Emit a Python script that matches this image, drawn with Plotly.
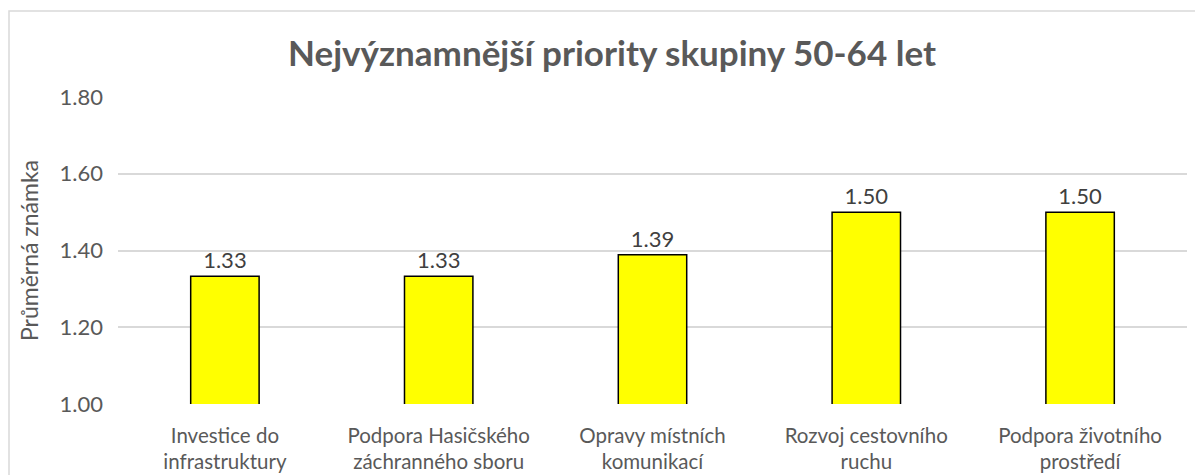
import plotly.graph_objects as go

categories = ["Investice do<br>infrastruktury", "Podpora Hasičského<br>záchranného sboru",
              "Opravy místních<br>komunikací", "Rozvoj cestovního<br>ruchu", "Podpora životního<br>prostředí"]
values = [1.333, 1.333, 1.389, 1.5, 1.5]
tick_vals = [1.0, 1.2, 1.4, 1.6, 1.8]
tick_text = ["1.00", "1.20", "1.40", "1.60", "1.80"]

FONT = "Lato"
GREY = "#595959"

fig = go.Figure()
fig.add_trace(go.Bar(
    x=categories, y=values,
    marker=dict(color="#FFFF00", line=dict(color="#000000", width=1.5)),
    text=[f"{v:.2f}" for v in values], textposition="outside",
    textfont=dict(family=FONT, size=22, color="#404040"),
    cliponaxis=False,
))

OFF = 8  # page body offset
W, H = 1203 - OFF, 475 - OFF
ml = 118 - OFF
mr = W - (1187 - OFF)
mt = 97 - OFF
mb = H - (404 - OFF)
pw, ph = W - ml - mr, H - mt - mb

def px_x(px):
    return (px - OFF - ml) / pw

def px_y(py):
    return (H - mb - (py - OFF)) / ph

fig.update_layout(
    width=W, height=H,
    margin=dict(l=ml, r=mr, t=mt, b=mb, autoexpand=False),
    paper_bgcolor="white", plot_bgcolor="white",
    bargap=0.68,
    showlegend=False,
    title=dict(text="<b>Nejvýznamnější priority skupiny 50-64 let</b>",
               x=(612 - OFF) / W, xref="container", xanchor="center",
               y=1 - (54 - OFF) / H, yref="container", yanchor="middle",
               font=dict(family=FONT, size=35, color=GREY)),
    xaxis=dict(showgrid=False, showline=False, ticks="",
               ticklabelstandoff=17,
               tickfont=dict(family=FONT, size=20.5, color=GREY)),
    yaxis=dict(range=[1.0, 1.8], tickvals=tick_vals, ticktext=tick_text,
               showgrid=True, gridcolor="#d9d9d9", gridwidth=1.5,
               zeroline=False, showline=False, ticks="",
               ticklabelstandoff=14,
               tickfont=dict(family=FONT, size=22, color=GREY),
               title=dict(text="Průměrná známka", standoff=14,
                          font=dict(family=FONT, size=23, color=GREY))),
    shapes=[dict(type="rect", xref="paper", yref="paper",
                 x0=px_x(9), x1=px_x(1215), y0=px_y(11), y1=px_y(490),
                 line=dict(color="#d9d9d9", width=1.5), fillcolor="rgba(0,0,0,0)",
                 layer="below")],
)

fig.write_html("out.html")
